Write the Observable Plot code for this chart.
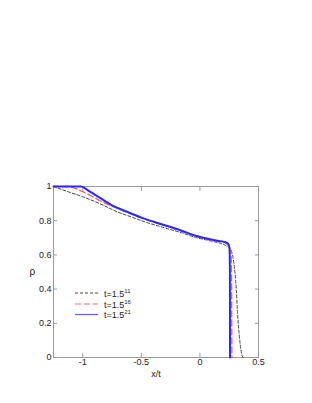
<!DOCTYPE html>
<html>
<head>
<meta charset="utf-8">
<script src="https://cdn.jsdelivr.net/npm/d3@7"></script>
<script src="https://cdn.jsdelivr.net/npm/@observablehq/plot@0.6"></script>
<style>
  body { margin: 0; background: white; }
  #wrap { position: relative; width: 312px; height: 403px; font-family: "Liberation Sans", Arial, sans-serif; }
  #legend { position: absolute; left: 0; top: 0; }
</style>
</head>
<body>
<div id="wrap"></div>
<script>
// t = 1.5^11 (black dashed)
const x11 = [-1.25, -1.15, -1.0, -0.846, -0.7, -0.59, -0.5, -0.3, -0.15, -0.037, 0.1, 0.219, 0.25, 0.27, 0.29, 0.31, 0.32, 0.34, 0.36, 0.37];
const y11 = [1.0, 0.975, 0.94, 0.897, 0.85, 0.823, 0.8, 0.758, 0.728, 0.702, 0.68, 0.655, 0.64, 0.62, 0.55, 0.40, 0.27, 0.10, 0.01, 0.0];
// t = 1.5^16 (red long dashes)
const x16 = [-1.25, -1.13, -1.0, -0.9, -0.846, -0.75, -0.633, -0.5, -0.4, -0.292, -0.15, -0.037, 0.05, 0.15, 0.22, 0.25, 0.265, 0.27, 0.272, 0.273];
const y16 = [1.0, 1.0, 0.97, 0.935, 0.915, 0.885, 0.853, 0.816, 0.793, 0.770, 0.738, 0.709, 0.694, 0.679, 0.668, 0.645, 0.61, 0.45, 0.15, 0.0];
// t = 1.5^21 (blue solid)
const x21 = [-1.25, -1.016, -0.95, -0.846, -0.75, -0.633, -0.5, -0.4, -0.292, -0.15, -0.037, 0.05, 0.15, 0.22, 0.247, 0.253, 0.256, 0.257];
const y21 = [1.0, 1.0, 0.975, 0.93, 0.89, 0.855, 0.818, 0.795, 0.772, 0.74, 0.712, 0.697, 0.683, 0.674, 0.658, 0.63, 0.5, 0.0];

const xTicks = [-1, -0.5, 0, 0.5];
const yTicks = [0, 0.2, 0.4, 0.6, 0.8, 1];
const seriesNames = ["11", "16", "21"];

const toRows = (xs, ys) => xs.map((x, i) => ({x, y: ys[i]}));
const s11 = toRows(x11, y11), s16 = toRows(x16, y16), s21 = toRows(x21, y21);

const styles = [
  {stroke: "#333", strokeWidth: 0.9, strokeDasharray: "3,2"},
  {stroke: "#ff4040", strokeWidth: 1.3, strokeDasharray: "6,3", strokeOpacity: 0.85},
  {stroke: "#2a2aff", strokeWidth: 2.0}
];
const fmt = d => String(d);

const chart = Plot.plot({
  width: 312, height: 403,
  marginTop: 186, marginLeft: 53, marginRight: 54, marginBottom: 46,
  x: {domain: [-1.25, 0.5]},
  y: {domain: [0, 1]},
  style: {fontFamily: "'Liberation Sans', Arial, sans-serif", fontSize: "9px", color: "#222", background: "white"},
  marks: [
    Plot.axisX({ticks: xTicks, tickSize: -4, tickPadding: 5, tickFormat: fmt, label: null, stroke: "#999"}),
    Plot.axisX({anchor: "top", ticks: xTicks, tickSize: -4, tickFormat: () => "", label: null, stroke: "#999"}),
    Plot.axisY({ticks: yTicks, tickSize: -4, tickPadding: 6, tickFormat: fmt, label: null, stroke: "#999"}),
    Plot.axisY({anchor: "right", ticks: yTicks, tickSize: -4, tickFormat: () => "", label: null, stroke: "#999"}),
    Plot.frame({stroke: "#999"}),
    Plot.line(s11, {x: "x", y: "y", curve: "monotone-x", ...styles[0]}),
    Plot.line(s16, {x: "x", y: "y", curve: "monotone-x", ...styles[1]}),
    Plot.line(s21, {x: "x", y: "y", curve: "monotone-x", ...styles[2]}),
    Plot.text(["x/t"], {frameAnchor: "bottom", dy: 19, fontSize: 9}),
    Plot.text(["ρ"], {frameAnchor: "left", dx: -24, fontSize: 10})
  ]
});

const wrap = document.getElementById("wrap");
wrap.appendChild(chart);

// legend overlay
const ns = "http://www.w3.org/2000/svg";
const leg = document.createElementNS(ns, "svg");
leg.setAttribute("id", "legend");
leg.setAttribute("width", 312);
leg.setAttribute("height", 403);
const legY = [293, 304, 314.5];
seriesNames.forEach((n, i) => {
  const l = document.createElementNS(ns, "line");
  l.setAttribute("x1", 75); l.setAttribute("x2", 98);
  l.setAttribute("y1", legY[i]); l.setAttribute("y2", legY[i]);
  l.setAttribute("stroke", styles[i].stroke);
  l.setAttribute("stroke-width", i === 2 ? 1.2 : styles[i].strokeWidth);
  if (i === 1) l.setAttribute("stroke-opacity", 0.55);
  if (i === 2) l.setAttribute("stroke-opacity", 0.75);
  if (styles[i].strokeDasharray) l.setAttribute("stroke-dasharray", styles[i].strokeDasharray);
  leg.appendChild(l);
  const t = document.createElementNS(ns, "text");
  t.setAttribute("x", 104); t.setAttribute("y", legY[i] + 3.5);
  t.setAttribute("font-size", 9);
  t.setAttribute("font-family", "'Liberation Sans', Arial, sans-serif");
  t.setAttribute("fill", "#222");
  t.textContent = "t=1.5";
  const sup = document.createElementNS(ns, "tspan");
  sup.setAttribute("dy", -4); sup.setAttribute("font-size", 6);
  sup.textContent = n;
  t.appendChild(sup);
  leg.appendChild(t);
});
wrap.appendChild(leg);
</script>
</body>
</html>
